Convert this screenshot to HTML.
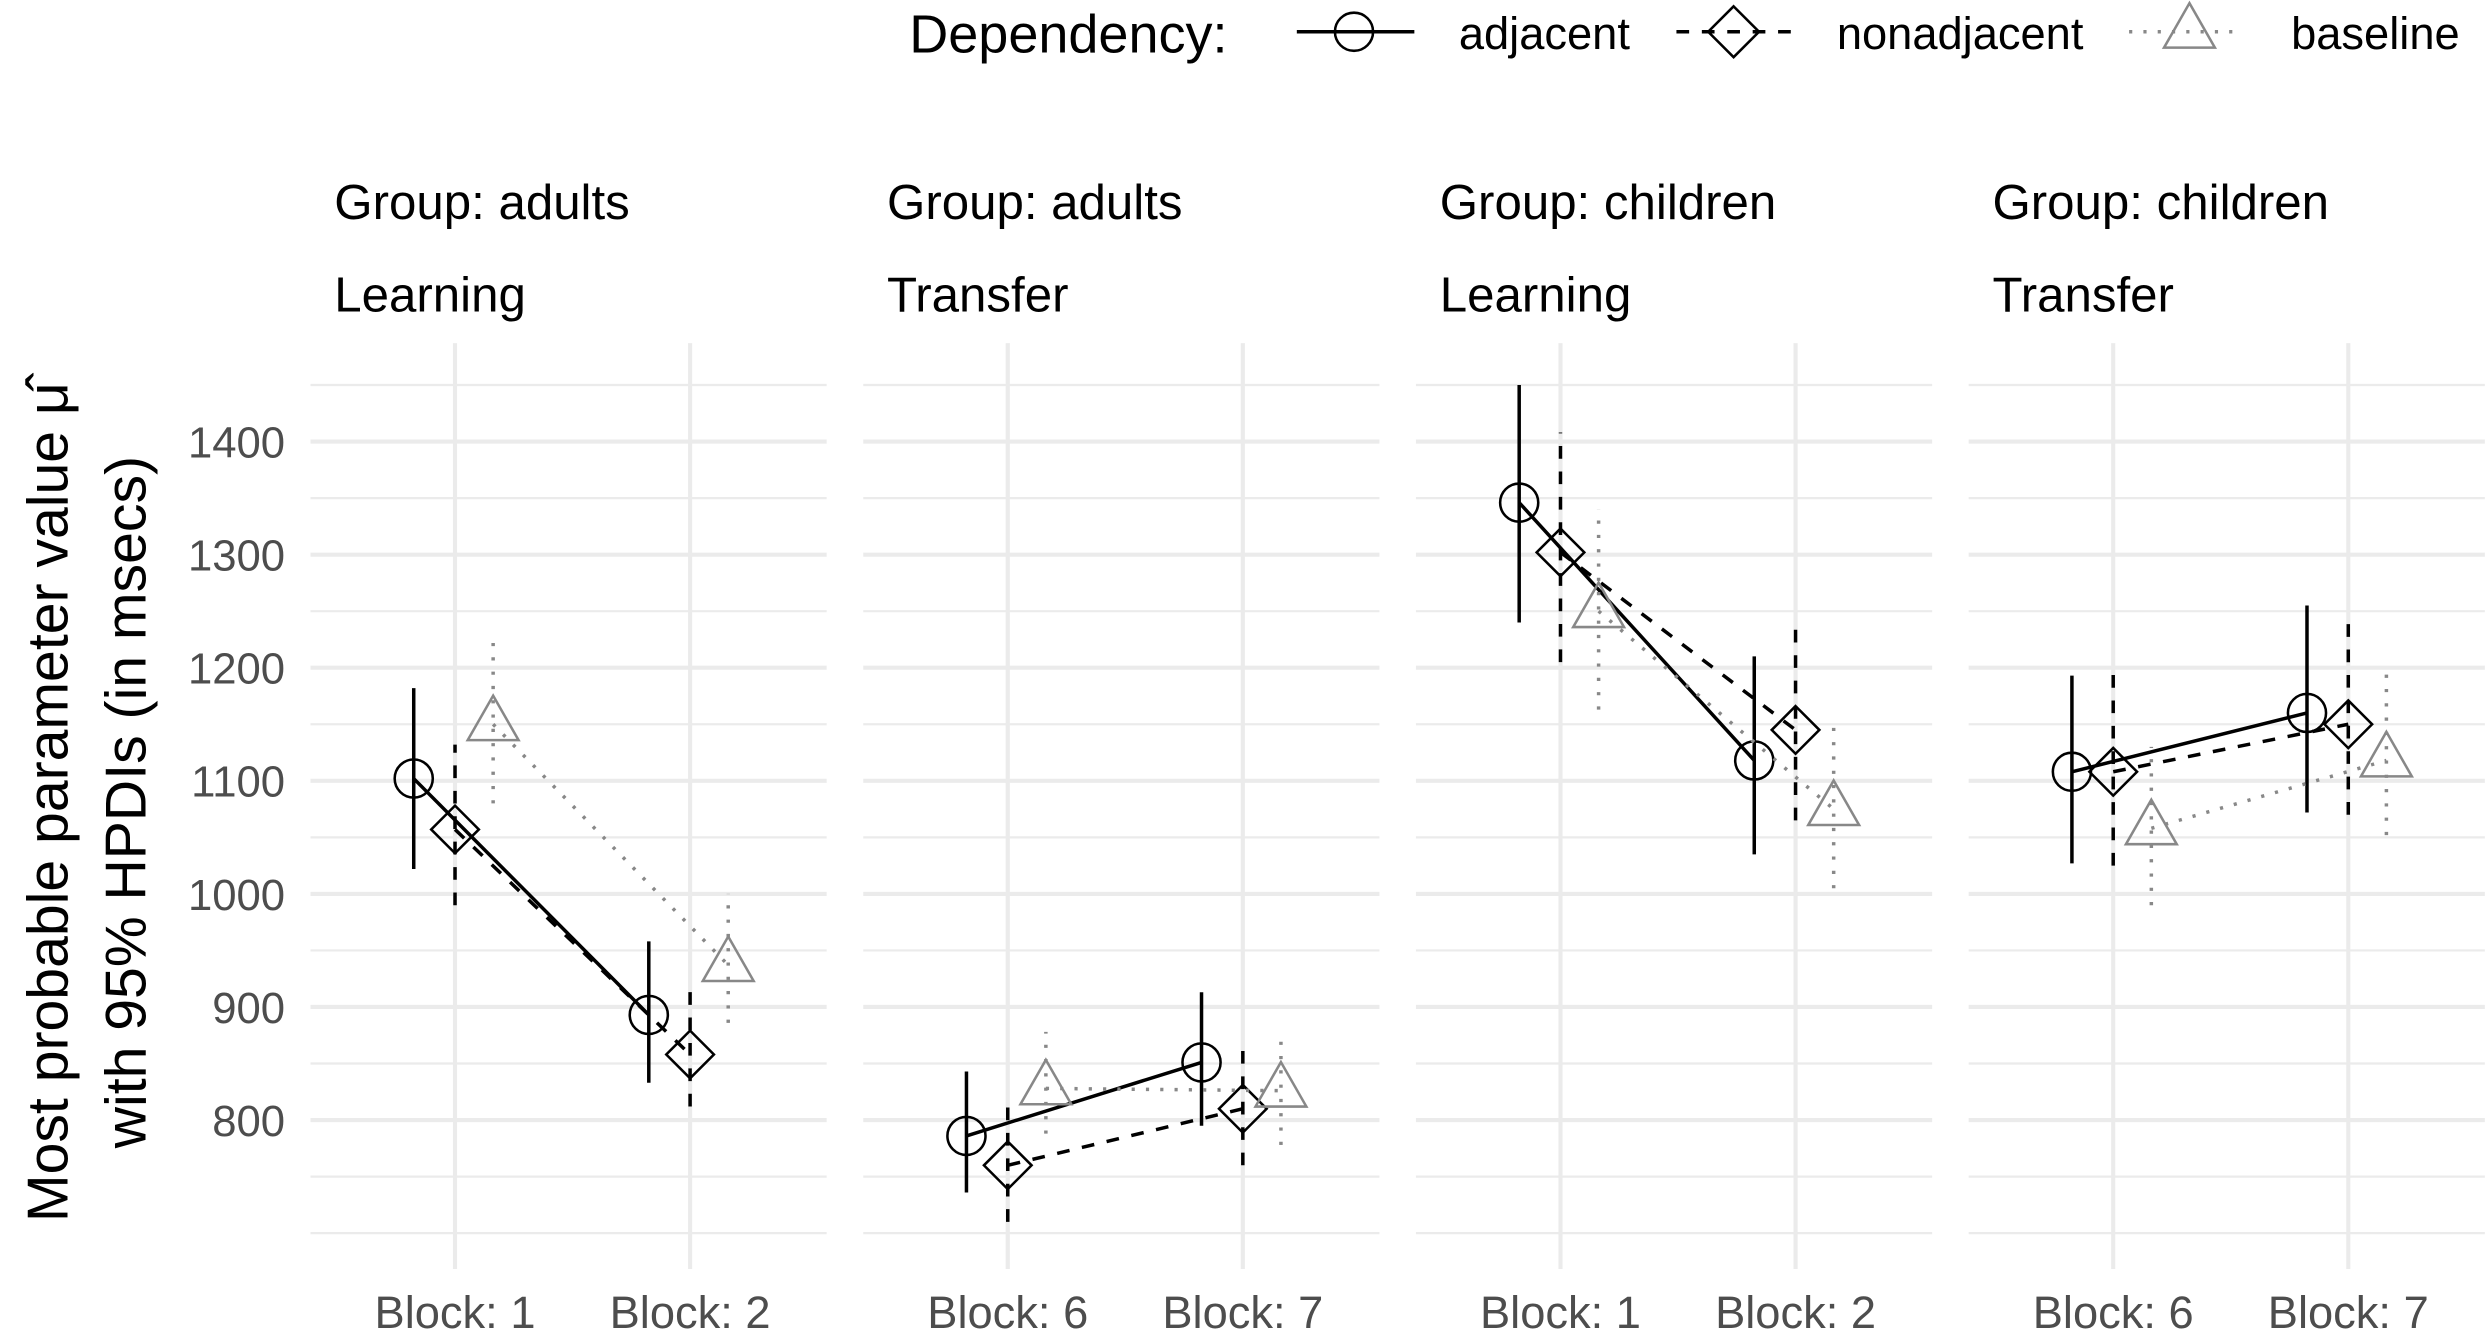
<!DOCTYPE html>
<html><head><meta charset="utf-8"><style>
html,body{margin:0;padding:0;background:#fff;}
svg{display:block;font-family:"Liberation Sans",sans-serif;}
</style></head><body>
<svg id="chart" width="2492" height="1331" viewBox="0 0 1568 838" xmlns="http://www.w3.org/2000/svg">
<g id="legend">
 <text x="572" y="33" font-size="34">Dependency:</text>
 <g>
  <line x1="816" y1="20" x2="890" y2="20" stroke="#000" stroke-width="2.2"/>
  <circle cx="852" cy="20" r="12" fill="none" stroke="#000" stroke-width="1.6"/>
  <text x="918" y="31" font-size="28.5">adjacent</text>
 </g>
 <g>
  <line x1="1055" y1="20" x2="1128" y2="20" stroke="#000" stroke-width="2.2" stroke-dasharray="8,8"/>
  <polygon points="1091,4 1107,20 1091,36 1075,20" fill="none" stroke="#000" stroke-width="1.6"/>
  <text x="1156" y="31" font-size="28.5">nonadjacent</text>
 </g>
 <g>
  <line x1="1340" y1="20" x2="1412" y2="20" stroke="#888" stroke-width="2.2" stroke-dasharray="2,7"/>
  <polygon points="1378,2 1394,30 1362,30" fill="none" stroke="#888" stroke-width="1.6"/>
  <text x="1442" y="31" font-size="28.5">baseline</text>
 </g>
</g>
<g>
 <text transform="translate(42,505) rotate(-90)" text-anchor="middle" font-size="36">Most probable parameter value  μ̂</text>
 <text transform="translate(91,505) rotate(-90)" text-anchor="middle" font-size="36">with 95% HPDIs (in msecs)</text>
</g>
<g id="plot"></g>
</svg>
<script>
const panelGroups = ["adults","adults","children","children"];
const panelPhases = ["Learning","Transfer","Learning","Transfer"];
const blockLabels = [["1","2"],["6","7"],["1","2"],["6","7"]];
const yTicks = [800,900,1000,1100,1200,1300,1400];
const yMinor = [750,850,950,1050,1150,1250,1350,1450,700];
// values per panel: [block1, block2]
const adjMean = [[1102,893],[786,851],[1346,1118],[1108,1160]];
const adjLo = [[1022,833],[736,795],[1240,1035],[1027,1072]];
const adjHi = [[1182,958],[843,913],[1450,1210],[1193,1255]];
const nonMean = [[1057,858],[760,810],[1302,1145],[1108,1150]];
const nonLo = [[990,812],[710,760],[1205,1065],[1025,1070]];
const nonHi = [[1132,920],[812,868],[1408,1235],[1197,1240]];
const baseMean = [[1150,937],[828,826],[1250,1075],[1058,1118]];
const baseLo = [[1080,886],[788,778],[1163,1005],[990,1052]];
const baseHi = [[1228,1000],[878,877],[1340,1150],[1130,1198]];

const NS="http://www.w3.org/2000/svg";
const plot=document.getElementById('plot');
const panelLeft=[195,543,891,1239], panelW=325;
function y(v){return 278+(1400-v)*0.712;}
function x(p,b){return panelLeft[p]+91+b*148;}
function mk(tag,attrs,parent){const e=document.createElementNS(NS,tag);for(const k in attrs)e.setAttribute(k,attrs[k]);(parent||plot).appendChild(e);return e;}
const series=[
 {name:'adjacent',mean:adjMean,lo:adjLo,hi:adjHi,off:-26,col:'#000',dash:'none',shape:'circle'},
 {name:'nonadjacent',mean:nonMean,lo:nonLo,hi:nonHi,off:0,col:'#000',dash:'8,8',shape:'diamond'},
 {name:'baseline',mean:baseMean,lo:baseLo,hi:baseHi,off:24,col:'#888',dash:'2,7',shape:'triangle'}
];
for(let p=0;p<4;p++){
 const g=mk('g',{});
 
 
 const L=panelLeft[p];
 [...yTicks,...yMinor].forEach(v=>{
  const major=yTicks.includes(v);
  const l=mk('line',{x1:L,x2:L+panelW,y1:y(v),y2:y(v),stroke:'#ebebeb','stroke-width':major?2.6:1.4},g);
  
  
 });
 for(let b=0;b<2;b++){
  const l=mk('line',{x1:x(p,b),x2:x(p,b),y1:216,y2:799,stroke:'#ebebeb','stroke-width':2.6},g);
  
  
  const t=mk('text',{x:x(p,b),y:836,'text-anchor':'middle','font-size':28.5,fill:'#4d4d4d'},g);
  t.textContent='Block: '+blockLabels[p][b];
  
  
 }
 const s1=mk('text',{x:L+15,y:138,'font-size':31},g);
 s1.textContent='Group: '+panelGroups[p];
 
 
 const s2=mk('text',{x:L+15,y:196,'font-size':31},g);
 s2.textContent=panelPhases[p];
 
 
 series.forEach(s=>{
  const sg=mk('g',{},g);
  
  
  const xs=[x(p,0)+s.off,x(p,1)+s.off];
  const ln=mk('line',{x1:xs[0],y1:y(s.mean[p][0]),x2:xs[1],y2:y(s.mean[p][1]),stroke:s.col,'stroke-width':2.2,'stroke-dasharray':s.dash},sg);
  
  
  for(let b=0;b<2;b++){
   const eb=mk('line',{x1:xs[b],x2:xs[b],y1:y(s.lo[p][b]),y2:y(s.hi[p][b]),stroke:s.col,'stroke-width':2.2,'stroke-dasharray':s.dash},sg);
   
   
   const cy=y(s.mean[p][b]),cx=xs[b];
   let m;
   if(s.shape==='circle') m=mk('circle',{cx:cx,cy:cy,r:12,fill:'none',stroke:s.col,'stroke-width':1.6},sg);
   else if(s.shape==='diamond') m=mk('polygon',{points:`${cx},${cy-15} ${cx+15},${cy} ${cx},${cy+15} ${cx-15},${cy}`,fill:'none',stroke:s.col,'stroke-width':1.6},sg);
   else m=mk('polygon',{points:`${cx},${cy-18} ${cx+16},${cy+10} ${cx-16},${cy+10}`,fill:'none',stroke:s.col,'stroke-width':1.6},sg);
   
   
  }
 });
}
yTicks.forEach(v=>{
 const t=mk('text',{x:179,y:y(v)+10,'text-anchor':'end','font-size':27.5,fill:'#4d4d4d'});
 t.textContent=v;
 
 
});
</script>
</body></html>
